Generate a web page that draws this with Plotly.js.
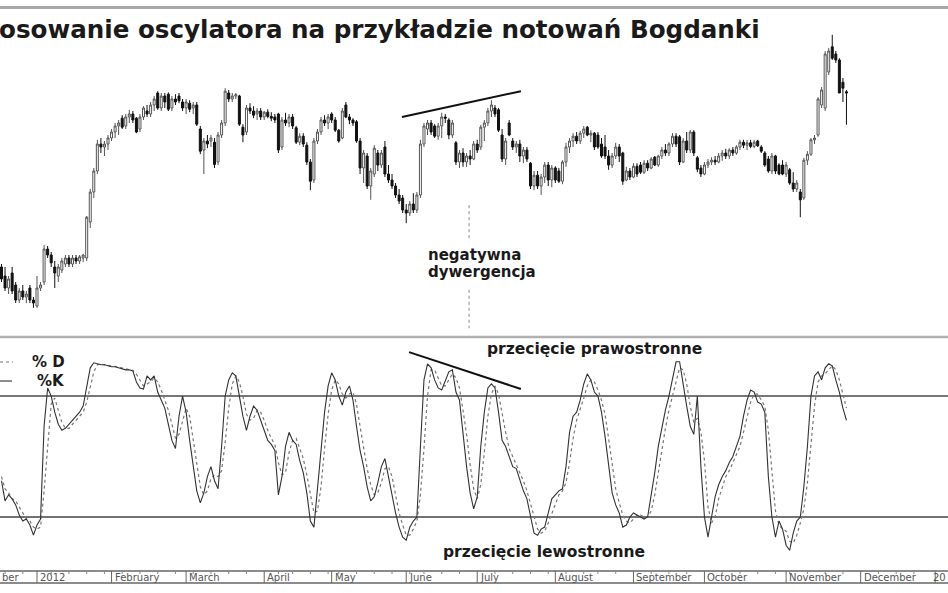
<!DOCTYPE html>
<html><head><meta charset="utf-8">
<script src="https://cdn.plot.ly/plotly-3.0.1.min.js"></script>
<style>html,body{margin:0;padding:0;background:#fff;}#chart{width:948px;height:593px;}</style>
</head><body><div id="chart"></div>
<script>
// trading-day index of first candle (0 = 2 Jan 2012)
const firstDay = -10;

const open = [
105.5,104,102,104.5,102.5,100,101.5,100.5,102,100,
99,102,103,108.5,107.5,105.5,104,105,106,107,
106,107,106.5,107,107,113,118,121.5,126,125.5,
126,127,128,129,130.3,129,130.5,131,130.3,128.5,
130.5,131.5,131,132.5,134.5,132,134,134.3,132,133.5,
134,133,132,132.8,132,132.5,128.5,125,126.5,126.5,
126.3,123,127.5,129.5,134.5,133.5,134,134,128.8,128,
132,131.5,131,131.5,130.5,131.3,130.6,130.5,131,125.5,
130,129.5,130.5,128.7,126.3,127.3,125.8,123,120,126.5,
128,130,129.5,131,130,128.3,127,132.5,130.5,130,
129.7,126.5,122,124,119,121,124.5,122.5,125.5,121,
120,119,117.5,117,115,114.5,116,115,117.5,126,
128.5,129.5,129,127.3,129,130.5,130,127.5,126.2,123,
124.5,123,124,123.5,126,125.5,128.8,129.5,131.5,132,
131.7,127.5,123.5,129.5,126.5,125.5,126,124,125,122.8,
119,120.8,119,120.5,122.5,120,122,121.5,119.8,123,
125.5,126.5,127.3,126.5,127.8,128.8,127.5,127.8,127.5,126,
125.5,124,122.5,124,125.5,124.5,120,121.5,120.5,122.3,
122.5,121.3,122.8,122,123.8,122.5,124,125,124.5,126,
127.3,127.2,123,126.5,125,128,123.7,122,121,122.5,
123,123.3,123,124,124.5,124,125,124.5,125.5,126.3,
125.8,126.2,125.6,126.5,125.5,124.5,123.5,121.5,124,122.5,
122.5,121,121.7,119.5,118.5,118,117,123.3,124.3,126.7,
127.5,132.5,132,138,142.2,141,140,136.3,134.7];

const high = [
106,105.5,104,105.5,103,102,102.5,101.5,102.5,100.5,
104,103,109.2,109,108,106.5,106,107,107.5,107.5,
107.5,107.5,107.5,107.7,114,118.5,122,126.7,127,126.5,
127.5,128.5,129.5,130,130.8,131,131.7,131.5,130.5,131,
132.3,132.5,133,134,134.8,134.5,134.5,134.6,134,134.3,
134.5,133.5,133.5,133.3,133,133,129,127,127.5,127.5,
127,128,130,135.3,135,134.5,134.5,134.2,129.3,132.5,
132.8,132.3,132,132,131.5,131.8,131.3,131,131.2,130.5,
131.2,131,131,129,127.8,127.8,126.3,123.5,127,128.5,
130.5,130.8,131,131.3,130.5,128.5,132,133,131,130.3,
130,127,125,124.5,122,125.8,125,125,126.5,122.5,
121,119.5,118.5,117.5,116,116.5,117.8,118,126.7,129.5,
130,130,129.3,129.5,131.2,131,130.3,130,126.5,125,
125.3,124.5,125,126.5,126.7,129.2,130,132,133.3,132.5,
132,128.5,127,130,127,126.5,126.7,125.5,125.5,123,
121.5,121.5,121,123,123,122.5,122.3,122,123.3,126.2,
127,127.8,128,128.2,129,129,128.3,128,128,127,
127.5,125,124.5,126.2,126,124.7,122.2,122,122.8,122.8,
123,123.3,123.3,123.8,124,124.2,125.5,126,126.3,127.8,
127.8,127.5,127,128,128.3,128.3,124,122.5,123,123.5,
123.8,124,124.5,125,125.2,125.3,125.5,125.8,126.7,126.7,
126.7,126.7,126.7,126.7,125.8,124.8,124,124.5,124.2,122.8,
123.3,123,122,121.3,120,118.5,123.7,124.8,127,127.5,
133.8,135.5,141.5,142,144.2,141.5,140.3,137,135];

const low = [
103,101.5,101,101,99.5,99.5,100,99.5,99.5,98.7,
98.7,101.5,102.5,107,105.5,102,103,104.5,105.5,105.5,
105.5,106,106,106.3,106.5,112,117,121,124.5,124,
125,126.5,127,127.5,128.5,128.5,129.5,129.5,127.8,128,
130,130.5,130.5,131.5,131.7,131.5,132,131.5,131.5,132.5,
132.8,131.5,131,131.3,131,129,124.3,121,125.3,125.5,
122,122.5,127,129,133,133,133.5,129,126.3,127.5,
131,130.3,130,130,130,130.3,129.8,129.5,124.5,125,
129,128.8,128.5,126,125.8,125.5,122.5,118.3,119.5,126,
127.5,129,128.5,129.5,128,126.2,126.8,130.3,129.3,129,
126.2,121,119.5,118.5,116.7,120.5,121.5,122,120.5,119.5,
118.5,117,116,114.5,112.8,114,114.5,114.5,117,125.5,
127.5,127.5,127,126.7,127,129.5,126.8,127,122.5,122,
122.2,122.2,122.5,123.3,124.5,125,126.5,129,130.5,130.5,
128,123,122.5,127.3,125,124.5,123,122.8,123,118.5,
118.3,118.5,117.5,119.5,119,118.8,119.5,119.5,119.3,122.2,
124.5,125.5,126,126,127,127.3,126.3,125,125.2,123.7,
123.5,121.7,122,123.5,123,119.2,119.8,120,120.3,120.5,
121,121,121.5,121.8,122.3,122.2,123.5,124,124,125.5,
125.5,122.5,122.8,124.5,124.5,124,121.3,120.5,120.8,122,
122.5,122.5,122.8,123.2,123.5,123.5,124,124.2,125,125.3,
125,125.3,125.3,125.5,124.5,122.2,121.2,121,121,120.8,
120.8,120.5,119.2,118,118,113.8,116.7,122.5,124,126,
127.2,132,131.5,137.5,140,139.5,134.5,133,129.2];

const close = [
103.5,102,103.5,101.5,100,101.5,100.5,101,100,99.5,
102,102.5,108.5,107.5,106.2,104.5,105.5,106.5,107,106,
107,106.5,107.2,107.5,113.8,118,121.5,126,125.5,126,
127,128,129,129.5,128.8,130.5,131,130,128,130.5,
132,131,132.5,133.5,132,134,133,131.8,133.5,133,
133.2,132,133,131.8,132.5,129.3,124.8,126.5,126,127,
122.6,127.5,129.5,134.8,133.5,134,134.2,129.3,127.5,132,
131.5,130.8,131.5,130.5,131.3,130.6,130.3,130,125,130,
129.5,130.5,129,126.3,127.3,126,123,119.8,126.5,128,
130,129.5,130.5,130,128.3,126.5,131.5,130.5,130,129.5,
126.5,122,124.5,119,121.5,125.3,122.5,124.5,121,120,
119,117.5,116.5,115,114.5,116,115,117.5,126,129,
129.5,128,127.3,129,130.5,130.3,127.5,129.5,123,124.5,
123,124,123.5,126,125,128.8,129.5,131.5,132.5,131,
128.3,123.5,126.5,127.5,125.5,126,124,125,123.5,119,
120.8,119,120.5,122.5,120,122,120,119.8,123,125.5,
126.5,127.3,126.5,127.8,128.5,127.5,127.8,125.5,125.5,124,
124,122.5,124,125.5,124,119.8,121.5,120.5,122.3,121,
121.3,122.8,122,123.5,122.5,124,125,124.5,126,127.3,
126,123,126.5,125,128,124.5,121.8,121,122.5,123,
123.3,123,124,124.5,124,125,124.5,125.5,126.3,125.8,
126.2,125.6,126.3,125.7,124.8,122.5,121.5,124,121.5,121,
121,122.5,119.5,118.5,119.5,116.7,123.3,124.3,126.7,127,
133.5,135,141,141.5,140.3,140,134.5,135.3,134.5];

const pctK = [
38,28,31,29,26,21,18,19,16,11,
16,19,65,84,80,72,66,63,64,66,
68,70,72,75,85,94,96.5,96,95.5,95.5,
95,94.5,94.5,94,93.5,93,93,92.5,87,84,
83.5,90,88,90,82,78,74,66,58,54,
70,80,72,58,45,33,27,32,40,45,
38,34,55,80,88,91.5,90,80,70,63,
70,75,73,68,63,58,56,53,31,40,
55,62,58,56,48,42,32,18,15,35,
55,72,85,91.5,88,80,75.5,82,85,78,
65,53,45,35,28,30,37,45,49,40,
30,22,15,10,8.5,15,18,20,55,88,
96,94,88,84,83,88,92,93,82,78,
60,45,32,24,30,55,72,84,86,84,
72,58,55,50,45,44,38,33,29,20,
12,11,14,15,22,29,31,33,34,45,
62,70,72,78,86,91,88,82,80,72,
60,45,32,26,22,15,16,20,22,21,
20,19,20,30,42,55,65,73,80,88,
97,97,85,75,65,61,80,45,20,10,
20,30,36,40,43,47,50,55,60,70,
78,83,82,77,76,72,40,20,10,18,
14,6,3.5,12,18,20,35,55,80,90,
92,88,94,96,95,88,82,74,68];

const pctD = [
40,34,32,29,28,25,22,19,18,15,
14,15,33,56,76,79,73,67,64,64,
66,68,70,72,77,85,92,95.5,96,95.5,
95.3,95,94.7,94.3,94,93.5,93,92.8,90.8,88,
85,86,87,89,87,83,78,73,66,59,
61,68,74,70,58,45,35,31,33,39,
41,40,43,57,74,86,90,87,80,71,
68,69,73,72,68,63,59,56,47,41,
42,52,58,59,54,49,41,31,22,23,
35,54,71,83,88,86,81,79,81,82,
76,65,54,44,36,31,32,37,44,45,
40,30,22,16,11,11,14,18,31,54,
80,93,93,89,85,85,88,91,89,84,
73,61,46,34,29,36,52,70,81,85,
81,71,62,54,50,46,42,38,33,27,
20,14,12,13,17,22,27,31,33,37,
47,59,68,73,79,85,88,87,83,78,
71,59,46,34,27,21,18,17,19,21,
21,20,20,23,31,42,54,64,73,80,
88,94,93,86,75,67,69,62,48,25,
17,20,29,35,40,43,47,51,55,62,
69,77,81,81,78,75,63,44,23,16,
14,13,8,7,11,17,24,37,57,75,
87,90,91,93,95,93,88,81,74];

// month boundaries (trading-day index) and the label text visible in each cell
const monthStart = [-21,0,21,42,64,83,104,124,146,168,188,211,232,253];
const monthLabels = ['ber','2012','February','March','April','May','June','July','August','September','October','November','December','20'];
const weekTicks = [-14,-9,-4,4,9,14,19,24,29,34,39,44,49,54,59,68,72,77,82,85,90,95,100,105,109,114,119,129,134,139,144,149,154,158,163,173,178,183,193,198,203,208,212,217,222,227,237,242,247];

const days = close.map((_, i) => firstDay + i);
const W = 948, H = 593;
const xRange = [-10.42, 256.6];
const py = p => 1 - p / H;
const px = p => p / W;
const idxToPaper = d => (d - xRange[0]) / (xRange[1] - xRange[0]);

const traces = [
  {type:'candlestick', x:days, open:open, high:high, low:low, close:close,
   xaxis:'x', yaxis:'y', whiskerwidth:0, hoverinfo:'skip', showlegend:false,
   increasing:{line:{color:'#555', width:1}, fillcolor:'#ffffff'},
   decreasing:{line:{color:'#111', width:1}, fillcolor:'#111111'}},
  {type:'scatter', mode:'lines', x:days, y:pctD, xaxis:'x', yaxis:'y2', name:'% D',
   line:{color:'#777', width:1.2, dash:'dot'}, hoverinfo:'skip', showlegend:false},
  {type:'scatter', mode:'lines', x:days, y:pctK, xaxis:'x', yaxis:'y2', name:'%K',
   line:{color:'#333', width:1.1}, hoverinfo:'skip', showlegend:false}
];

const shapes = [
  {type:'line', xref:'paper', yref:'paper', x0:0, x1:1, y0:py(7.5), y1:py(7.5), line:{color:'#a8a8a8', width:3}},
  {type:'line', xref:'paper', yref:'paper', x0:0, x1:1, y0:py(337), y1:py(337), line:{color:'#b0b0b0', width:2.5}},
  {type:'line', xref:'paper', yref:'y2', x0:0, x1:1, y0:80, y1:80, layer:'below', line:{color:'#777', width:2}},
  {type:'line', xref:'paper', yref:'y2', x0:0, x1:1, y0:20, y1:20, layer:'below', line:{color:'#444', width:1.5}},
  {type:'line', xref:'paper', yref:'paper', x0:0, x1:1, y0:py(571), y1:py(571), line:{color:'#666', width:1.5}},
  {type:'line', xref:'paper', yref:'paper', x0:0, x1:1, y0:py(583), y1:py(583), line:{color:'#666', width:1.5}},
  // trend lines
  {type:'line', xref:'x', yref:'y', x0:102.8, y0:130.5, x1:136.3, y1:134.8, line:{color:'#111', width:2}},
  {type:'line', xref:'x', yref:'y2', x0:104.8, y0:101.8, x1:136.3, y1:83.5, line:{color:'#111', width:2}},
  // dotted guide
  {type:'line', xref:'x', yref:'y', x0:121.7, x1:121.7, y0:115.8, y1:110, line:{color:'#888', width:1, dash:'dot'}},
  {type:'line', xref:'x', yref:'y', x0:121.7, x1:121.7, y0:101.7, y1:95.3, line:{color:'#888', width:1, dash:'dot'}},
  // legend samples
  {type:'line', xref:'paper', yref:'paper', x0:0, x1:px(13), y0:py(362), y1:py(362), line:{color:'#777', width:1.2, dash:'dot'}},
  {type:'line', xref:'paper', yref:'paper', x0:0, x1:px(12), y0:py(381), y1:py(381), line:{color:'#444', width:1.2}}
];
monthStart.forEach(m => shapes.push({type:'line', xref:'x', yref:'paper', x0:m, x1:m, y0:py(583), y1:py(571), line:{color:'#666', width:1}}));
weekTicks.forEach(t => shapes.push({type:'line', xref:'x', yref:'paper', x0:t, x1:t, y0:py(574), y1:py(571), line:{color:'#888', width:1}}));

const boldFont = (s) => ({family:'DejaVu Sans', size:s, color:'#1a1a1a', weight:'bold'});
const annotations = [
  {xref:'paper', yref:'paper', x:px(-3), y:py(29), xanchor:'left', yanchor:'middle', showarrow:false,
   text:'osowanie oscylatora na przykładzie notowań Bogdanki', font:boldFont(24.6)},
  {xref:'paper', yref:'paper', x:px(426), y:py(255), xanchor:'left', yanchor:'middle', showarrow:false, text:'negatywna', font:boldFont(15)},
  {xref:'paper', yref:'paper', x:px(426), y:py(272), xanchor:'left', yanchor:'middle', showarrow:false, text:'dywergencja', font:boldFont(15)},
  {xref:'paper', yref:'paper', x:px(485), y:py(349), xanchor:'left', yanchor:'middle', showarrow:false, text:'przecięcie prawostronne', font:boldFont(15.5)},
  {xref:'paper', yref:'paper', x:px(441), y:py(552), xanchor:'left', yanchor:'middle', showarrow:false, text:'przecięcie lewostronne', font:boldFont(15.5)},
  {xref:'paper', yref:'paper', x:px(30), y:py(362), xanchor:'left', yanchor:'middle', showarrow:false, text:'% D', font:boldFont(15)},
  {xref:'paper', yref:'paper', x:px(35), y:py(381), xanchor:'left', yanchor:'middle', showarrow:false, text:'%K', font:boldFont(15)}
];
monthStart.forEach((m, i) => {
  // first and last cells run past the edges: their visible parts are kept inside
  const last = i === monthStart.length - 1;
  const x = i === 0 ? 0 : (last ? 1 : idxToPaper(m) + px(1));
  annotations.push({
    xref:'paper', yref:'paper', x:x, y:py(577.5), xanchor:last ? 'right' : 'left', yanchor:'middle', showarrow:false,
    text:monthLabels[i], font:{family:'DejaVu Sans', size:10, color:'#555'}
  });
});

const layout = {
  width:W, height:H, margin:{l:0, r:0, t:0, b:0},
  paper_bgcolor:'#ffffff', plot_bgcolor:'#ffffff', showlegend:false, boxgap:0.2,
  xaxis:{range:xRange, anchor:'y2', visible:false, showgrid:false, zeroline:false, rangeslider:{visible:false}, fixedrange:true},
  yaxis:{domain:[py(335), py(10)], range:[94.17, 148.33], visible:false, fixedrange:true},
  yaxis2:{domain:[py(565), py(340)], range:[-3.8, 107.8], visible:false, fixedrange:true},
  shapes:shapes, annotations:annotations
};

Plotly.newPlot('chart', traces, layout, {staticPlot:true, displayModeBar:false});
</script>
</body></html>
